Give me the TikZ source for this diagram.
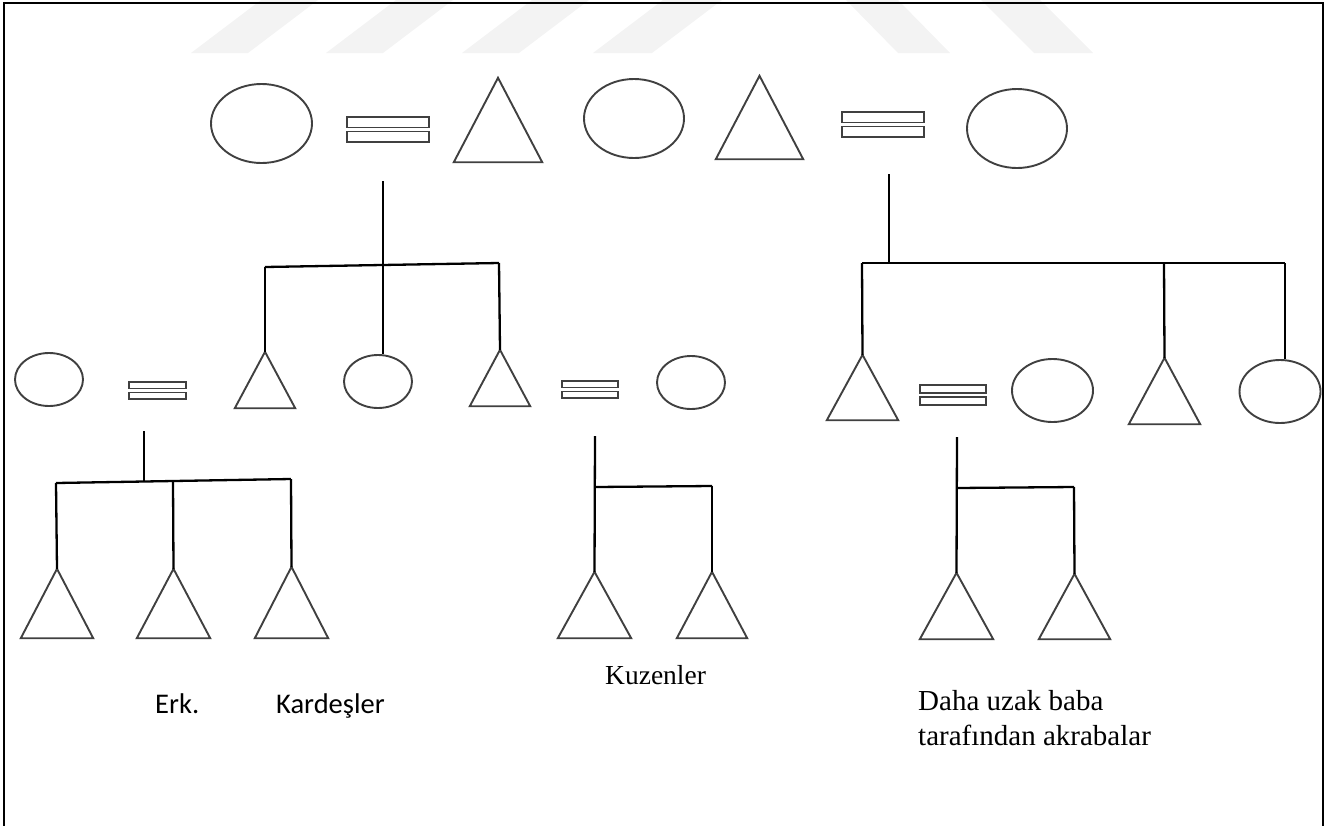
\documentclass[tikz,border=0pt]{standalone}
\usepackage{fontspec}
\setmainfont{Liberation Serif}
\newfontfamily\calfont{Carlito}
\usetikzlibrary{shapes.geometric,calc}
\definecolor{shapegray}{HTML}{404040}
\definecolor{wmgray}{HTML}{F3F3F3}
\begin{document}
\begin{tikzpicture}[x=1pt,y=-1pt,
  shp/.style={draw=shapegray, line width=1.9pt},
  ell/.style={ellipse, shp, inner sep=0pt},
  tribox/.style={rectangle, inner sep=0pt, draw=none},
  marr/.style={rectangle, inner sep=0pt, draw=none},
  link/.style={draw=black, line width=2.3pt},
  wm/.style={fill=wmgray, draw=none},
  frame/.style={draw=black, line width=2pt},
  lblsans/.style={font=\calfont\fontsize{28.5}{34}\selectfont, inner sep=0pt, anchor=base west},
  lblserif/.style={font=\fontsize{29}{35}\selectfont, inner sep=0pt, anchor=base west, align=left}]
\useasboundingbox (0,0) rectangle (1327,825);
% watermark
\fill[wm] (191,53) -- (248,53) -- (318,0) -- (261,0) -- cycle;
\fill[wm] (326,53) -- (383,53) -- (453,0) -- (396,0) -- cycle;
\fill[wm] (462,53) -- (519,53) -- (589,0) -- (532,0) -- cycle;
\fill[wm] (593,53) -- (652,53) -- (722,0) -- (663,0) -- cycle;
\fill[wm] (898,53) -- (950,53) -- (898,0) -- (846,0) -- cycle;
\fill[wm] (1034,53) -- (1093,53) -- (1040,0) -- (981,0) -- cycle;
% frame
\draw[frame] (4,830) -- (4,3) -- (1323,3) -- (1323,830);

% ellipses
\node[ell, minimum width=101, minimum height=79] (E1) at (261.5,123.5) {};
\node[ell, minimum width=100, minimum height=79] (E2) at (634,118.5) {};
\node[ell, minimum width=100, minimum height=79] (E3) at (1017,128.5) {};
\node[ell, minimum width=68, minimum height=53] (F1) at (49,379.5) {};
\node[ell, minimum width=68, minimum height=53] (F2) at (378,381.5) {};
\node[ell, minimum width=68, minimum height=53] (F3) at (691,382.5) {};
\node[ell, minimum width=81, minimum height=63] (F4) at (1052.5,390.5) {};
\node[ell, minimum width=81, minimum height=63] (F5) at (1280,391.5) {};

% triangles (boxes)
\node[tribox, minimum width=88, minimum height=84] (TA) at (498,120) {};
\node[tribox, minimum width=87, minimum height=83] (TB) at (759.5,117.5) {};
\node[tribox, minimum width=60, minimum height=56] (R1) at (265,380) {};
\node[tribox, minimum width=60, minimum height=56] (R2) at (500,378) {};
\node[tribox, minimum width=71, minimum height=65] (R3) at (862.5,387.5) {};
\node[tribox, minimum width=71, minimum height=66] (R4) at (1164.5,391) {};
\node[tribox, minimum width=72, minimum height=69] (C1) at (57,603.5) {};
\node[tribox, minimum width=73, minimum height=69] (C2) at (173.5,603.5) {};
\node[tribox, minimum width=73, minimum height=71] (C3) at (291.5,602.5) {};
\node[tribox, minimum width=73, minimum height=66] (C4) at (594.5,605) {};
\node[tribox, minimum width=70, minimum height=66] (C5) at (712,605) {};
\node[tribox, minimum width=73, minimum height=66] (C6) at (956.5,606) {};
\node[tribox, minimum width=71, minimum height=65] (C7) at (1074.5,606.5) {};
\foreach \t in {TA,TB,R1,R2,R3,R4,C1,C2,C3,C4,C5,C6,C7}
  \draw[shp, line join=miter] (\t.south west) -- (\t.north) -- (\t.south east) -- cycle;

% marriage bars
\node[marr, minimum width=82, minimum height=25] (M1) at (388,129.5) {};
\node[marr, minimum width=82, minimum height=25] (M2) at (883,124.5) {};
\node[marr, minimum width=57, minimum height=17] (M3) at (157.5,390.5) {};
\node[marr, minimum width=56, minimum height=17] (M4) at (590,389.5) {};
\node[marr, minimum width=66, minimum height=20] (M5) at (953,395) {};
\foreach \m in {M1,M2,M3,M4,M5}{
  \draw[shp, line width=1.8pt] (\m.north west) rectangle ([yshift=2pt]\m.east);
  \draw[shp, line width=1.8pt] ([yshift=-2pt]\m.west) rectangle (\m.south east);
}

% family 1
\coordinate (d1) at (383,181);
\coordinate (J1L) at (265,267);
\coordinate (J1M) at (383,265);
\coordinate (J1R) at (499,263);
\draw[link] (d1) -- (J1M);
\draw[link] (J1L) -- (J1R);
\draw[link] (J1L) -- (R1.north);
\draw[link] (J1M) -- (J1M |- F2.north);
\draw[link] (J1R) -- (R2.north);

% family 2
\coordinate (d2) at (889,174);
\coordinate (J2L) at (862,263);
\coordinate (J2M) at (889,263);
\coordinate (J2A) at (1164,263);
\coordinate (J2R) at (1285,263);
\draw[link] (d2) -- (J2M);
\draw[link] (J2L) -- (J2R);
\draw[link] (J2L) -- (R3.north);
\draw[link] (J2A) -- (R4.north);
\draw[link] (J2R) -- (J2R |- F5.north);

% family 3
\coordinate (d3) at (144,431);
\coordinate (J3L) at (56,483);
\coordinate (J3M) at (144,482);
\coordinate (J3A) at (173,481);
\coordinate (J3R) at (291,479);
\draw[link] (d3) -- (J3M);
\draw[link] (J3L) -- (J3R);
\draw[link] (J3L) -- (C1.north);
\draw[link] (J3A) -- (C2.north);
\draw[link] (J3R) -- (C3.north);

% family 4
\coordinate (d4) at (595,436);
\coordinate (J4L) at (595,487);
\coordinate (J4R) at (712,486);
\draw[link] (d4) -- (C4.north);
\draw[link] (J4L) -- (J4R);
\draw[link] (J4R) -- (C5.north);

% family 5
\coordinate (d5) at (957,437);
\coordinate (J5L) at (957,488);
\coordinate (J5R) at (1074,487);
\draw[link] (d5) -- (C6.north);
\draw[link] (J5L) -- (J5R);
\draw[link] (J5R) -- (C7.north);

% labels
\node[lblsans] (L1) at (155,713) {Erk.};
\node[lblsans] (L2) at (276,713) {Kardeşler};
\node[lblserif, font=\fontsize{27.5}{33}\selectfont] (L3) at (605,684) {Kuzenler};
\node[lblserif] (L4) at (918,745) {Daha uzak baba\\tarafından akrabalar};
\end{tikzpicture}
\end{document}
